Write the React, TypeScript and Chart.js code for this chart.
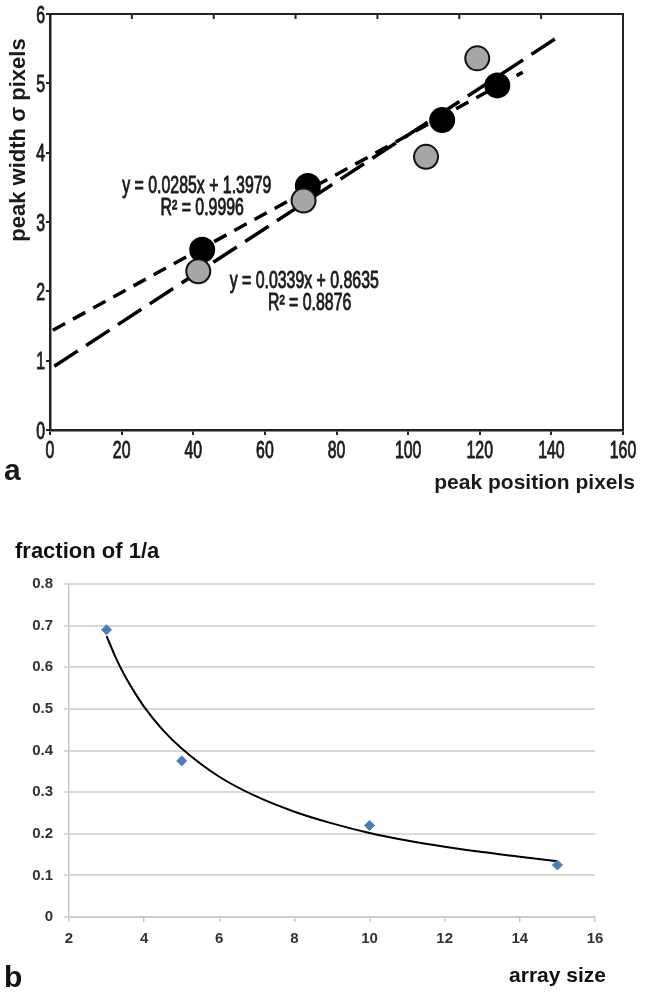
import React, { useEffect, useRef } from "react";
import { Chart, registerables } from "chart.js";
Chart.register(...registerables);

// ---------- Panel a data ----------
const blackX = [42.5, 72, 109.5, 124.9];
const blackY = [2.6, 3.52, 4.47, 4.97];
const grayX = [41.4, 70.8, 105, 119.3];
const grayY = [2.29, 3.31, 3.94, 5.36];
const fitBlackX = [0.8, 132];
const fitBlackY = [1.44, 5.16];
const fitGrayX = [1.2, 142.5];
const fitGrayY = [0.92, 5.69];
const eqTexts = ["y = 0.0285x + 1.3979", "R² = 0.9996", "y = 0.0339x + 0.8635", "R² = 0.8876"];
const eqX = [41, 42.5, 71, 72.5];
const eqY = [3.54, 3.21, 2.17, 1.84];

// ---------- Panel b data ----------
const sizeX = [3, 5, 10, 15];
const fracY = [0.69, 0.375, 0.22, 0.125];
const trendX = [3, 3.25, 3.5, 3.75, 4, 4.5, 5, 6, 7, 8, 9, 10, 11, 12, 13, 14, 15];
const trendY = [0.675, 0.622, 0.577, 0.539, 0.505, 0.449, 0.405, 0.337, 0.289, 0.253, 0.225, 0.202, 0.184, 0.169, 0.156, 0.145, 0.134];

const pts = (xs: number[], ys: number[]) => xs.map((x, i) => ({ x, y: ys[i] }));

const SANS = '"Liberation Sans", Arial, sans-serif';

function drawScaled(ctx: CanvasRenderingContext2D, text: string, px: number, py: number, align: CanvasTextAlign, sx: number) {
  ctx.save();
  ctx.translate(px, py);
  ctx.scale(sx, 1);
  ctx.textAlign = align;
  ctx.textBaseline = "alphabetic";
  ctx.lineWidth = 0.9;
  ctx.strokeStyle = ctx.fillStyle as string;
  ctx.strokeText(text, 0, 0);
  ctx.fillText(text, 0, 0);
  ctx.restore();
}

const panelAPlugin = {
  id: "panelA",
  afterDraw(chart: any) {
    const { ctx, chartArea: ca, scales } = chart;
    const x = scales.x;
    const y = scales.y;
    ctx.save();
    // frame (top + right) with inner top ticks
    ctx.strokeStyle = "#222";
    ctx.lineWidth = 2;
    ctx.beginPath();
    ctx.moveTo(ca.left, ca.top);
    ctx.lineTo(ca.right, ca.top);
    ctx.lineTo(ca.right, ca.bottom);
    for (let i = 1; i < 7; i++) {
      const px = ca.left + (i * ca.width) / 7;
      ctx.moveTo(px, ca.top);
      ctx.lineTo(px, ca.top + 5);
    }
    ctx.stroke();

    // tick labels (condensed)
    ctx.fillStyle = "#1a1a1a";
    ctx.font = `24px ${SANS}`;
    x.ticks.forEach((t: any) => {
      drawScaled(ctx, String(t.value), x.getPixelForValue(t.value), ca.bottom + 28, "center", 0.66);
    });
    y.ticks.forEach((t: any) => {
      drawScaled(ctx, String(t.value), ca.left - 5, y.getPixelForValue(t.value) + 8.5, "right", 0.66);
    });

    // equations
    ctx.font = `23px ${SANS}`;
    eqTexts.forEach((s, i) => {
      drawScaled(ctx, s, x.getPixelForValue(eqX[i]), y.getPixelForValue(eqY[i]) + 8, "center", 0.69);
    });

    // axis titles
    ctx.font = `bold 21px ${SANS}`;
    ctx.textAlign = "right";
    ctx.textBaseline = "alphabetic";
    ctx.fillText("peak position pixels", 635, 489);

    ctx.save();
    ctx.translate(19, 140);
    ctx.rotate(-Math.PI / 2);
    ctx.font = `bold 22px ${SANS}`;
    ctx.textAlign = "center";
    ctx.textBaseline = "middle";
    ctx.fillText("peak width σ pixels", 0, 0);
    ctx.restore();

    // panel label
    ctx.font = `bold 30px ${SANS}`;
    ctx.textAlign = "left";
    ctx.textBaseline = "alphabetic";
    ctx.fillText("a", 4, 480);
    ctx.restore();
  },
};

const panelBPlugin = {
  id: "panelB",
  afterDraw(chart: any) {
    const { ctx } = chart;
    ctx.save();
    ctx.fillStyle = "#111";
    ctx.font = `bold 22px ${SANS}`;
    ctx.textAlign = "left";
    ctx.textBaseline = "alphabetic";
    ctx.fillText("fraction of 1/a", 15, 58);
    ctx.font = `bold 21px ${SANS}`;
    ctx.textAlign = "right";
    ctx.fillText("array size", 606, 482);
    ctx.font = `bold 30px ${SANS}`;
    ctx.textAlign = "left";
    ctx.fillText("b", 4, 487);
    ctx.restore();
  },
};

function PanelA() {
  const ref = useRef<HTMLCanvasElement>(null);
  useEffect(() => {
    const chart = new Chart(ref.current!, {
      type: "scatter",
      data: {
        datasets: [
          {
            label: "gray",
            data: pts(grayX, grayY),
            pointRadius: 12,
            pointBackgroundColor: "#a6a6a6",
            pointBorderColor: "#111",
            pointBorderWidth: 2,
            showLine: false,
          },
          {
            label: "black",
            data: pts(blackX, blackY),
            pointRadius: 12,
            pointBackgroundColor: "#000",
            pointBorderColor: "#000",
            pointBorderWidth: 2,
            showLine: false,
          },
          {
            label: "fit black",
            data: pts(fitBlackX, fitBlackY),
            showLine: true,
            borderColor: "#000",
            borderWidth: 3.5,
            borderDash: [14, 9],
            pointRadius: 0,
            fill: false,
          },
          {
            label: "fit gray",
            data: pts(fitGrayX, fitGrayY),
            showLine: true,
            borderColor: "#000",
            borderWidth: 3.5,
            borderDash: [28, 10],
            pointRadius: 0,
            fill: false,
          },
        ],
      } as any,
      options: {
        responsive: false,
        devicePixelRatio: 1,
        animation: false,
        layout: { padding: { left: 0, top: 10, right: 23, bottom: 0 } },
        plugins: { legend: { display: false }, tooltip: { enabled: false } },
        scales: {
          x: {
            type: "linear",
            min: 0,
            max: 160,
            ticks: { stepSize: 20, display: false },
            grid: { drawOnChartArea: false, drawTicks: true, tickLength: 5, color: "#222", lineWidth: 2 },
            border: { color: "#222", width: 2.5 },
            afterFit: (s: any) => { s.height = 70; },
          },
          y: {
            type: "linear",
            min: 0,
            max: 6,
            ticks: { stepSize: 1, display: false },
            grid: { drawOnChartArea: false, drawTicks: true, tickLength: 4, color: "#222", lineWidth: 2 },
            border: { color: "#222", width: 2.5 },
            afterFit: (s: any) => { s.width = 50; },
          },
        },
      } as any,
      plugins: [panelAPlugin],
    });
    return () => chart.destroy();
  }, []);
  return <canvas ref={ref} width={646} height={500} style={{ position: "absolute", left: 0, top: 0, width: 646, height: 500 }} />;
}

function PanelB() {
  const ref = useRef<HTMLCanvasElement>(null);
  useEffect(() => {
    const chart = new Chart(ref.current!, {
      type: "scatter",
      data: {
        datasets: [
          {
            label: "fraction",
            data: pts(sizeX, fracY),
            pointStyle: "rectRot",
            pointRadius: 5,
            pointBackgroundColor: "#4a7ebb",
            pointBorderColor: "#4a7ebb",
            pointBorderWidth: 1,
            showLine: false,
          },
          {
            label: "trend",
            data: pts(trendX, trendY),
            showLine: true,
            borderColor: "#000",
            borderWidth: 2,
            pointRadius: 0,
            cubicInterpolationMode: "monotone",
            fill: false,
          },
        ],
      } as any,
      options: {
        responsive: false,
        devicePixelRatio: 1,
        animation: false,
        layout: { padding: { left: 0, top: 84, right: 51, bottom: 0 } },
        plugins: { legend: { display: false }, tooltip: { enabled: false } },
        scales: {
          x: {
            type: "linear",
            min: 2,
            max: 16,
            ticks: {
              stepSize: 2,
              color: "#333",
              font: { family: SANS, size: 15, weight: "bold" },
              padding: 8,
            },
            grid: { drawOnChartArea: false, drawTicks: true, tickLength: 5, color: "#c8c8c8", lineWidth: 1.5 },
            border: { color: "#c8c8c8", width: 1.5 },
            afterFit: (s: any) => { s.height = 76; },
          },
          y: {
            type: "linear",
            min: 0,
            max: 0.8,
            ticks: {
              stepSize: 0.1,
              color: "#333",
              font: { family: SANS, size: 15, weight: "bold" },
              padding: 11,
              callback: (v: any) => (Math.abs(v) < 1e-9 ? "0" : Number(v).toFixed(1)),
            },
            grid: { drawOnChartArea: true, drawTicks: true, tickLength: 5, color: "#d9d9d9", lineWidth: 2 },
            border: { color: "#c8c8c8", width: 1.5 },
            afterFit: (s: any) => { s.width = 69; },
          },
        },
      } as any,
      plugins: [panelBPlugin],
    });
    return () => chart.destroy();
  }, []);
  return <canvas ref={ref} width={646} height={493} style={{ position: "absolute", left: 0, top: 500, width: 646, height: 493 }} />;
}

export default function App() {
  return (
    <div style={{ position: "absolute", left: 0, top: 0, width: 646, height: 993, background: "#fff", overflow: "hidden" }}>
      <PanelA />
      <PanelB />
    </div>
  );
}
